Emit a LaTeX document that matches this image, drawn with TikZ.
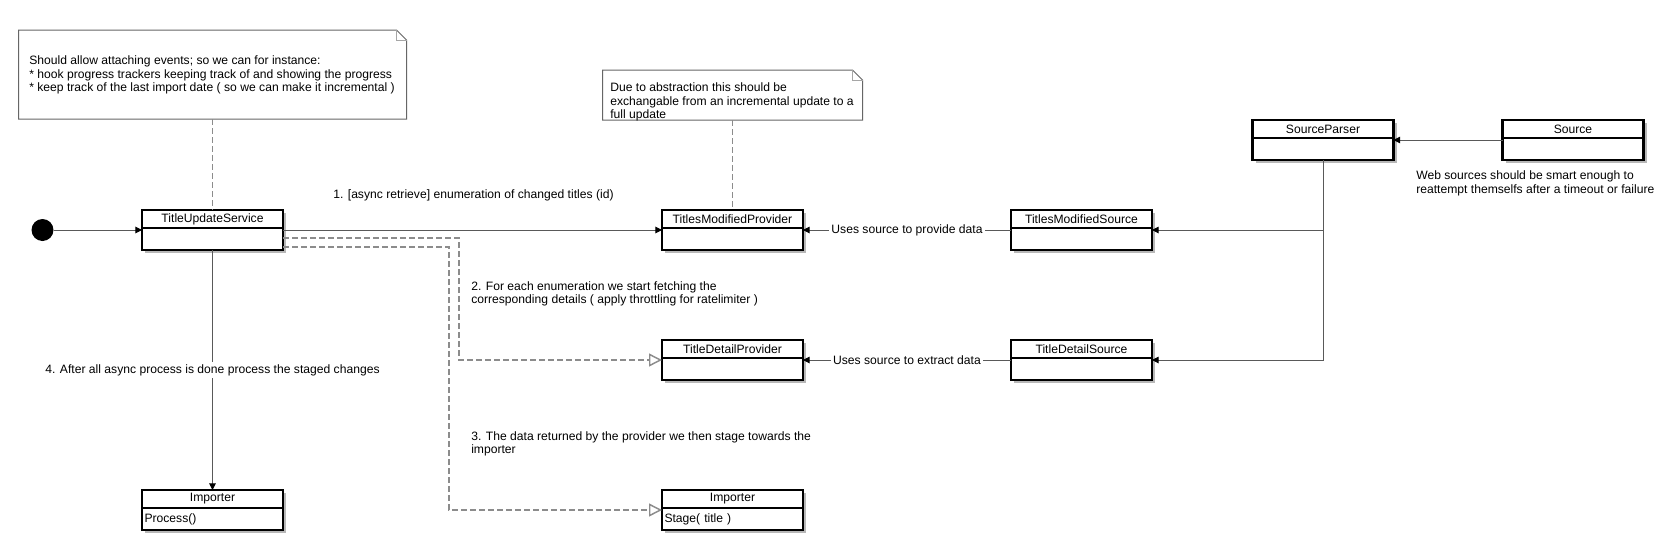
\documentclass[tikz,border=0pt]{standalone}
\usepackage{fontspec}
\setmainfont{Liberation Sans}
\usetikzlibrary{positioning,arrows.meta,shadows}

\begin{document}
\begin{tikzpicture}[x=0.75pt, y=-0.75pt, every node/.style={font=\fontsize{9.1}{10.2}\selectfont}]
    \tikzstyle{class_head}=[rectangle, draw, line width=1.6pt, fill=white, outer sep=0pt, inner sep=0pt,
      minimum width=105.75pt, minimum height=13.5pt,
      drop shadow={shadow xshift=2.6pt, shadow yshift=-2.6pt, fill=black!28, opacity=1}]
    \tikzstyle{class_body}=[class_head, minimum height=16.5pt, text width=102pt, inner xsep=1.875pt, align=left]
    \tikzstyle{start_state}=[circle, fill=black, minimum size=16.5pt, inner sep=0pt]
    \tikzstyle{note_box}=[rectangle, inner sep=0pt, outer sep=0pt]
    \tikzstyle{note_edge}=[draw=black!60, fill=white, line width=0.75pt]
    \tikzstyle{note_fold}=[draw=black!35, line width=0.75pt]
    \tikzstyle{note_link}=[draw=black!45, line width=1.1pt, dash pattern=on 4.5pt off 2.25pt]
    \tikzstyle{assoc_edge}=[draw=black!65, line width=0.75pt, -{Triangle[length=5pt, width=5pt, color=black]}]
    \tikzstyle{dep_edge}=[note_link, -{Triangle[open, length=9.75pt, width=9.75pt, fill=white, color=black!45]}]
    \tikzstyle{msg_label}=[align=left, inner sep=0pt]
    \tikzstyle{edge_label}=[fill=white, inner sep=1.5pt]

    \path[use as bounding box, fill=white] (0,0) rectangle (1664,550);

    % --- notes ---
    \node[note_box, minimum width=291pt, minimum height=66.75pt] (note1) at (212.5,74.5) {};
    \draw[note_edge] (note1.south west) -- (note1.north west) -- ([xshift=-7.5pt]note1.north east)
      -- ([yshift=-7.5pt]note1.north east) -- (note1.south east) -- cycle;
    \draw[note_fold] ([xshift=-7.5pt]note1.north east) |- ([yshift=-7.5pt]note1.north east);
    \node[msg_label, anchor=west] (note1_text) at (29,75) {Should allow attaching events; so we can for instance:\\{}* hook progress trackers keeping track of and showing the progress\\{}* keep track of the last import date ( so we can make it incremental )};

    \node[note_box, minimum width=195pt, minimum height=37.5pt] (note2) at (732.5,95) {};
    \draw[note_edge] (note2.south west) -- (note2.north west) -- ([xshift=-7.5pt]note2.north east)
      -- ([yshift=-7.5pt]note2.north east) -- (note2.south east) -- cycle;
    \draw[note_fold] ([xshift=-7.5pt]note2.north east) |- ([yshift=-7.5pt]note2.north east);
    \node[msg_label, anchor=west] (note2_text) at (610,102) {Due to abstraction this should be\\exchangable from an incremental update to a\\full update};

    % --- classes ---
    \node[start_state] (start) at (42.5,230) {};

    \node[class_head] (tus_head) at (212.5,219) {TitleUpdateService};
    \node[class_body, below=0pt of tus_head] (tus_body) {};

    \node[class_head] (tmp_head) at (732.5,219) {TitlesModifiedProvider};
    \node[class_body, below=0pt of tmp_head] (tmp_body) {};

    \node[class_head] (tms_head) at (1081.5,219) {TitlesModifiedSource};
    \node[class_body, below=0pt of tms_head] (tms_body) {};

    \node[class_head] (sp_head) at (1323,129) {SourceParser};
    \node[class_body, below=0pt of sp_head] (sp_body) {};

    \node[class_head] (src_head) at (1573,129) {Source};
    \node[class_body, below=0pt of src_head] (src_body) {};

    \node[class_head] (tdp_head) at (732.5,349) {TitleDetailProvider};
    \node[class_body, below=0pt of tdp_head] (tdp_body) {};

    \node[class_head] (tds_head) at (1081.5,349) {TitleDetailSource};
    \node[class_body, below=0pt of tds_head] (tds_body) {};

    \node[class_head] (imp1_head) at (212.5,499) {Importer};
    \node[class_body, below=0pt of imp1_head] (imp1_body) {Process()};

    \node[class_head] (imp2_head) at (732.5,499) {Importer};
    \node[class_body, below=0pt of imp2_head] (imp2_body) {Stage( title )};

    % --- messages ---
    \node[msg_label, anchor=west] (msg1) at (333,195) {1. [async retrieve] enumeration of changed titles (id)};
    \node[msg_label, anchor=west] (msg2) at (471,294) {2. For each enumeration we start fetching the\\corresponding details ( apply throttling for ratelimiter )};
    \node[msg_label, anchor=west] (msg3) at (471,444) {3. The data returned by the provider we then stage towards the\\importer};
    \node[msg_label, anchor=west] (web_note) at (1416,183.5) {Web sources should be smart enough to\\reattempt themselfs after a timeout or failure};

    % --- connectors ---
    \draw[note_link] (note1) -- (tus_head);
    \draw[note_link] (note2) -- (tmp_head);

    \draw[assoc_edge] (start) -- (start -| tus_head.west);
    \draw[assoc_edge] ([yshift=-1.5pt]tus_body.north east) -- ([yshift=-1.5pt]tmp_body.north west);
    \draw[assoc_edge] ([yshift=-1.5pt]tms_body.north west) -- node[edge_label] (use1) {Uses source to provide data} ([yshift=-1.5pt]tmp_body.north east);
    \draw[assoc_edge] ([yshift=-1.5pt]tds_body.north west) -- node[edge_label] (use2) {Uses source to extract data} ([yshift=-1.5pt]tdp_body.north east);
    \draw[assoc_edge] ([yshift=-1.5pt]src_body.north west) -- ([yshift=-1.5pt]sp_body.north east);
    \draw[assoc_edge] (sp_body.south) |- ([yshift=-1.5pt]tms_body.north east);
    \draw[assoc_edge] (sp_body.south) |- ([yshift=-1.5pt]tds_body.north east);
    \draw[assoc_edge] (tus_body.south) -- node[edge_label] (step4) {4. After all async process is done process the staged changes} (imp1_head.north);

    \coordinate (fork2) at (459,300);
    \coordinate (fork3) at (449,400);
    \draw[dep_edge] ([yshift=-7.5pt]tus_body.north east) -| (fork2) |- ([yshift=-1.5pt]tdp_body.north west);
    \draw[dep_edge] ([yshift=-14.25pt]tus_body.north east) -| (fork3) |- ([yshift=-1.5pt]imp2_body.north west);
  \end{tikzpicture}
\end{document}
